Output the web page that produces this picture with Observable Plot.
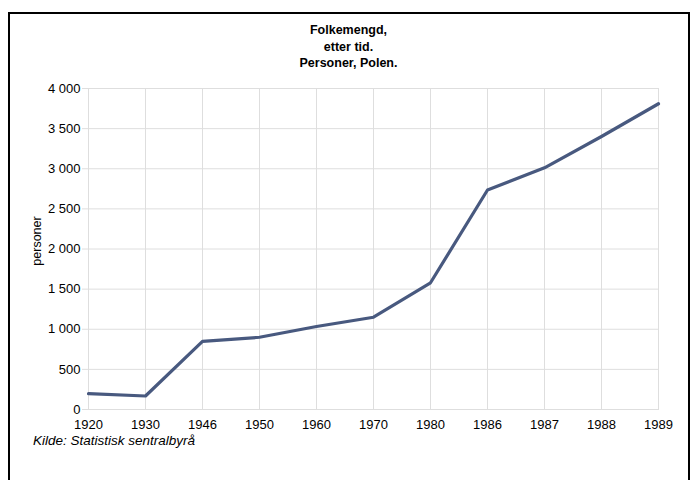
<!DOCTYPE html>
<html>
<head>
<meta charset="utf-8">
<script src="https://cdn.jsdelivr.net/npm/d3@7"></script>
<script src="https://cdn.jsdelivr.net/npm/@observablehq/plot@0.6"></script>
<style>
  html, body { margin: 0; padding: 0; background: #fff; }
  #wrap { position: relative; width: 697px; height: 480px; overflow: hidden; font-family: "Liberation Sans", Arial, sans-serif; }
  #frame { position: absolute; left: 8px; top: 12px; width: 682px; height: 480px; border: 2px solid #000; box-sizing: border-box; }
  #title { position: absolute; left: 0; width: 697px; top: 22px; text-align: center; font-family: "Liberation Sans Narrow", "Liberation Sans", Arial, sans-serif; font-weight: bold; font-size: 12.5px; line-height: 16.5px; color: #000; }
  #chart { position: absolute; left: 0; top: 0; }
  #ylabel { position: absolute; left: 37px; top: 241px; transform: translate(-50%, -50%) rotate(-90deg); font-size: 12.5px; color: #000; white-space: nowrap; }
  #caption { position: absolute; left: 33px; top: 433px; font-style: italic; font-size: 13.5px; color: #000; }
</style>
</head>
<body>
<div id="wrap">
  <div id="frame"></div>
  <div id="chart"></div>
  <div id="title">Folkemengd,<br>etter tid.<br>Personer, Polen.</div>
  <div id="ylabel">personer</div>
  <div id="caption">Kilde: Statistisk sentralbyrå</div>
</div>
<script>
const years = ["1920", "1930", "1946", "1950", "1960", "1970", "1980", "1986", "1987", "1988", "1989"];
const population = [197, 168, 848, 900, 1034, 1150, 1579, 2735, 3012, 3402, 3810];
const yTicks = [0, 500, 1000, 1500, 2000, 2500, 3000, 3500, 4000];

const data = years.map((y, i) => ({year: y, value: population[i]}));
const fmt = d => d3.format(",")(d).replace(/,/g, " ");

const chart = Plot.plot({
  width: 697,
  height: 480,
  marginLeft: 86,
  marginRight: 38,
  marginTop: 88,
  marginBottom: 71,
  style: {fontFamily: "'Liberation Sans', Arial, sans-serif", fontSize: "13px", color: "#000", background: "transparent"},
  x: {type: "point", domain: years, padding: 0, label: null},
  y: {domain: [0, 4000], label: null},
  marks: [
    Plot.ruleY(yTicks, {stroke: "#dedede", strokeWidth: 1, strokeOpacity: 1}),
    Plot.ruleX(years, {stroke: "#dedede", strokeWidth: 1, strokeOpacity: 1}),
    Plot.axisY({ticks: yTicks, tickFormat: fmt, tickSize: 4, tickPadding: 2, stroke: "#dedede", strokeOpacity: 1, fontSize: 13, label: null}),
    Plot.axisX({tickSize: 0, tickPadding: 10, fontSize: 13, label: null}),
    Plot.line(data, {x: "year", y: "value", stroke: "#48597f", strokeWidth: 3.2, strokeLinejoin: "round"})
  ]
});
document.getElementById("chart").appendChild(chart);
</script>
</body>
</html>
